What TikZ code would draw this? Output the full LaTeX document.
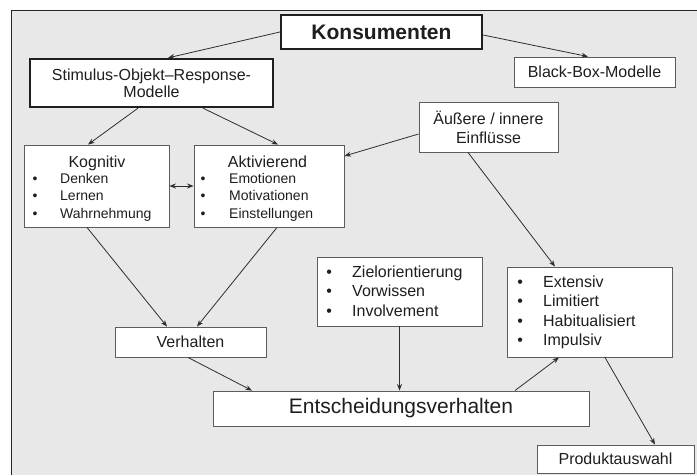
\documentclass[tikz,border=0pt]{standalone}
\usepackage{fontspec}
\setmainfont{Liberation Sans}
\usetikzlibrary{arrows.meta}
\definecolor{panel}{HTML}{E8E8E8}
\definecolor{ink}{HTML}{1E1E1E}
\definecolor{edge}{HTML}{5C5C5C}

\begin{document}
\begin{tikzpicture}[x=1pt,y=-1pt,
  box/.style={draw=edge, line width=0.9pt, fill=white, inner sep=0pt, text=ink,
    font=\fontsize{16}{19}\selectfont, align=center},
  heavybox/.style={box, draw=black!88, line width=2.3pt},
  txt/.style={inner sep=0pt, text=ink},
  listsmall/.style={txt, anchor=north west, font=\fontsize{14}{17.5}\selectfont},
  listlarge/.style={txt, anchor=north west, font=\fontsize{16}{19.5}\selectfont},
  link/.style={draw=black!82, line width=0.8pt, -{Stealth[length=6.5pt,width=5pt]}},
]
% page and grey panel
\useasboundingbox (0,0) rectangle (697,475);
\fill[white] (0,0) rectangle (697,475);
\fill[panel] (11,10) rectangle (697,475);
\draw[black!85, line width=0.9pt] (11,475) -- (11,10) -- (697,10);

% boxes
\node[heavybox, minimum width=201pt, minimum height=34pt,
  font=\fontsize{21}{25}\selectfont\bfseries] (kons) at (381.5,32) {Konsumenten};
\node[heavybox, minimum width=243pt, minimum height=48pt,
  font=\fontsize{16}{17}\selectfont] (stim) at (151.5,83) {Stimulus-Objekt--Response-\\Modelle};
\node[box, minimum width=161pt, minimum height=30pt] (black) at (594.5,72) {Black-Box-Modelle};
\node[box, minimum width=139pt, minimum height=50pt] (infl) at (488.5,127) {Äußere / innere\\Einflüsse};
\node[box, minimum width=145pt, minimum height=82pt] (kog) at (96.5,186) {};
\node[box, minimum width=150pt, minimum height=82pt] (akt) at (269,186) {};
\node[box, minimum width=165pt, minimum height=69pt] (ziel) at (399.5,291.5) {};
\node[box, minimum width=165pt, minimum height=90pt] (ext) at (589.5,312) {};
\node[box, minimum width=151pt, minimum height=30pt] (verh) at (190.5,342) {Verhalten};
\node[box, minimum width=376pt, minimum height=35pt,
  font=\fontsize{21}{25}\selectfont] (ent) at (401,408.5) {Entscheidungsverhalten};
\node[box, minimum width=157pt, minimum height=28pt] (prod) at (615.5,459) {Produktauswahl};

% box contents
\node[txt, anchor=base, font=\fontsize{16}{19}\selectfont] (kogtitle) at (97,167) {Kognitiv};
\node[listsmall] (koglist) at (32.5,170.75)
  {\begin{tabular}{@{}p{27.5pt}@{}l@{}}•&Denken\\•&Lernen\\•&Wahrnehmung\end{tabular}};
\node[txt, anchor=base, font=\fontsize{16}{19}\selectfont] (akttitle) at (267.5,167) {Aktivierend};
\node[listsmall] (aktlist) at (200.5,170.75)
  {\begin{tabular}{@{}p{28.5pt}@{}l@{}}•&Emotionen\\•&Motivationen\\•&Einstellungen\end{tabular}};
\node[listlarge] (ziellist) at (326.2,263.35)
  {\begin{tabular}{@{}p{25.8pt}@{}l@{}}•&Zielorientierung\\•&Vorwissen\\•&Involvement\end{tabular}};
\node[listlarge] (extlist) at (517.2,273.5)
  {\begin{tabular}{@{}p{25.8pt}@{}l@{}}•&Extensiv\\•&Limitiert\\•&Habitualisiert\\•&Impulsiv\end{tabular}};

% connectors
\draw[link] (kons.west) -- ([xshift=16.5pt]stim.north);
\draw[link] ([yshift=-3pt]kons.east) -- ([xshift=-6.5pt]black.north);
\draw[link] ([xshift=-13.5pt]stim.south) -- ([xshift=-8.5pt]kog.north);
\draw[link] ([xshift=51.5pt]stim.south) -- ([xshift=9pt]akt.north);
\draw[link] ([yshift=-7pt]infl.west) -- ([yshift=30pt]akt.east);
\draw[link] ([xshift=-20.5pt]infl.south) -- ([xshift=-34.5pt]ext.north);
\draw[link, {Stealth[length=6.5pt,width=5pt]}-{Stealth[length=6.5pt,width=5pt]}] (kog.east) -- (akt.west);
\draw[link] ([xshift=-9.5pt]kog.south) -- ([xshift=-23.5pt]verh.north);
\draw[link] ([xshift=8pt]akt.south) -- ([xshift=6.5pt]verh.north);
\draw[link] ([xshift=-2.5pt]verh.south) -- ([xshift=-149pt]ent.north);
\draw[link] (ziel.south) -- (ziel.south |- ent.north);
\draw[link] ([xshift=114pt]ent.north) -- ([xshift=-30.5pt]ext.south);
\draw[link] ([xshift=15.5pt]ext.south) -- ([xshift=39.5pt]prod.north);
\end{tikzpicture}
\end{document}
